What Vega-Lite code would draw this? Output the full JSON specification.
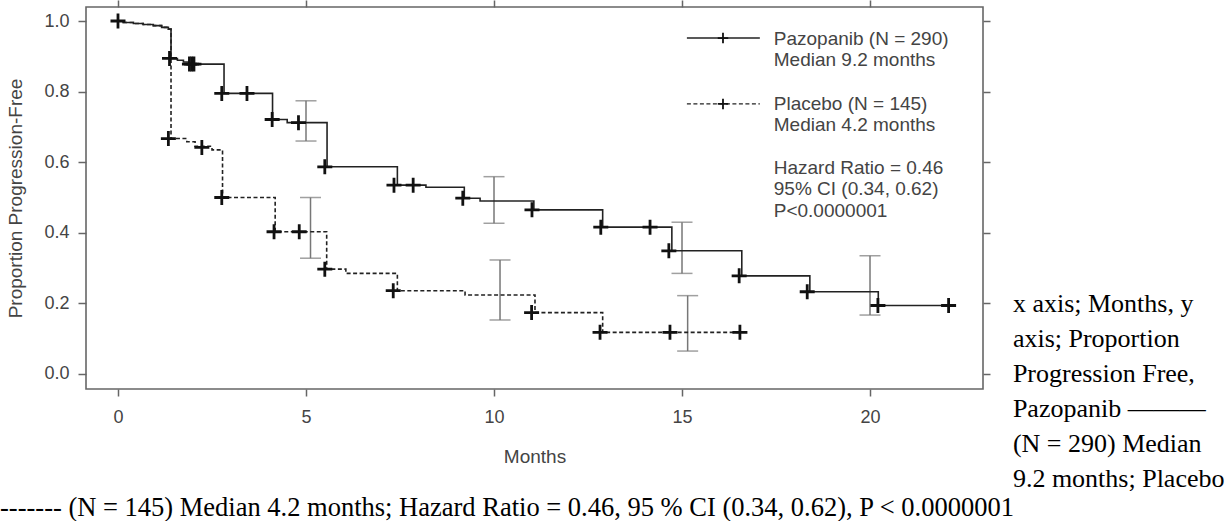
{
  "$schema": "https://vega.github.io/schema/vega-lite/v6.json",
  "width": 897,
  "height": 382,
  "autosize": "none",
  "padding": {"left": 86, "top": 7, "right": 248, "bottom": 132},
  "background": "white",
  "config": {
    "view": {"stroke": "#666", "strokeWidth": 1.6},
    "axis": {
      "domain": false, "grid": false, "tickColor": "#666", "tickWidth": 1.5, "tickSize": 7,
      "labelFont": "Liberation Sans", "labelFontSize": 18, "labelColor": "#444",
      "titleFont": "Liberation Sans", "titleFontSize": 19, "titleFontWeight": "normal", "titleColor": "#444"
    }
  },
  "datasets": {
    "curves": [
      {"arm": "Pazopanib", "month": 0, "p": 1.0},
      {"arm": "Pazopanib", "month": 0.14, "p": 0.996},
      {"arm": "Pazopanib", "month": 0.41, "p": 0.993},
      {"arm": "Pazopanib", "month": 0.67, "p": 0.99},
      {"arm": "Pazopanib", "month": 0.94, "p": 0.987},
      {"arm": "Pazopanib", "month": 1.16, "p": 0.982},
      {"arm": "Pazopanib", "month": 1.34, "p": 0.977},
      {"arm": "Pazopanib", "month": 1.41, "p": 0.894},
      {"arm": "Pazopanib", "month": 1.58, "p": 0.889},
      {"arm": "Pazopanib", "month": 1.74, "p": 0.884},
      {"arm": "Pazopanib", "month": 1.9, "p": 0.878},
      {"arm": "Pazopanib", "month": 2.82, "p": 0.795},
      {"arm": "Pazopanib", "month": 4.11, "p": 0.721},
      {"arm": "Pazopanib", "month": 4.5, "p": 0.712},
      {"arm": "Pazopanib", "month": 5.56, "p": 0.587},
      {"arm": "Pazopanib", "month": 7.43, "p": 0.535},
      {"arm": "Pazopanib", "month": 8.19, "p": 0.529},
      {"arm": "Pazopanib", "month": 9.21, "p": 0.498},
      {"arm": "Pazopanib", "month": 9.63, "p": 0.49},
      {"arm": "Pazopanib", "month": 11.06, "p": 0.465},
      {"arm": "Pazopanib", "month": 12.89, "p": 0.416},
      {"arm": "Pazopanib", "month": 14.73, "p": 0.349},
      {"arm": "Pazopanib", "month": 16.59, "p": 0.278},
      {"arm": "Pazopanib", "month": 18.4, "p": 0.233},
      {"arm": "Pazopanib", "month": 20.22, "p": 0.194},
      {"arm": "Pazopanib", "month": 22.09, "p": 0.194},
      {"arm": "Placebo", "month": 0, "p": 1.0},
      {"arm": "Placebo", "month": 0.14, "p": 0.996},
      {"arm": "Placebo", "month": 0.41, "p": 0.993},
      {"arm": "Placebo", "month": 0.67, "p": 0.99},
      {"arm": "Placebo", "month": 0.94, "p": 0.987},
      {"arm": "Placebo", "month": 1.16, "p": 0.982},
      {"arm": "Placebo", "month": 1.34, "p": 0.977},
      {"arm": "Placebo", "month": 1.41, "p": 0.667},
      {"arm": "Placebo", "month": 1.83, "p": 0.658},
      {"arm": "Placebo", "month": 2.05, "p": 0.645},
      {"arm": "Placebo", "month": 2.5, "p": 0.635},
      {"arm": "Placebo", "month": 2.78, "p": 0.5},
      {"arm": "Placebo", "month": 4.18, "p": 0.403},
      {"arm": "Placebo", "month": 5.55, "p": 0.297},
      {"arm": "Placebo", "month": 6.06, "p": 0.285},
      {"arm": "Placebo", "month": 7.43, "p": 0.236},
      {"arm": "Placebo", "month": 9.23, "p": 0.224},
      {"arm": "Placebo", "month": 11.09, "p": 0.174},
      {"arm": "Placebo", "month": 12.89, "p": 0.118},
      {"arm": "Placebo", "month": 16.54, "p": 0.118}
    ],
    "censor": [
      {"arm": "Pazopanib", "month": 0, "p": 1.0},
      {"arm": "Pazopanib", "month": 1.37, "p": 0.894},
      {"arm": "Pazopanib", "month": 1.9, "p": 0.878},
      {"arm": "Pazopanib", "month": 1.96, "p": 0.878},
      {"arm": "Pazopanib", "month": 2.02, "p": 0.878},
      {"arm": "Pazopanib", "month": 2.76, "p": 0.795},
      {"arm": "Pazopanib", "month": 3.43, "p": 0.795},
      {"arm": "Pazopanib", "month": 4.1, "p": 0.721},
      {"arm": "Pazopanib", "month": 4.8, "p": 0.712},
      {"arm": "Pazopanib", "month": 5.5, "p": 0.587},
      {"arm": "Pazopanib", "month": 7.34, "p": 0.535},
      {"arm": "Pazopanib", "month": 7.85, "p": 0.535},
      {"arm": "Pazopanib", "month": 9.17, "p": 0.498},
      {"arm": "Pazopanib", "month": 11.01, "p": 0.465},
      {"arm": "Pazopanib", "month": 12.84, "p": 0.416},
      {"arm": "Pazopanib", "month": 14.15, "p": 0.416},
      {"arm": "Pazopanib", "month": 14.65, "p": 0.349},
      {"arm": "Pazopanib", "month": 16.52, "p": 0.278},
      {"arm": "Pazopanib", "month": 18.33, "p": 0.233},
      {"arm": "Pazopanib", "month": 20.21, "p": 0.194},
      {"arm": "Pazopanib", "month": 22.09, "p": 0.194},
      {"arm": "Placebo", "month": 1.34, "p": 0.667},
      {"arm": "Placebo", "month": 2.23, "p": 0.642},
      {"arm": "Placebo", "month": 2.76, "p": 0.5},
      {"arm": "Placebo", "month": 4.15, "p": 0.403},
      {"arm": "Placebo", "month": 4.82, "p": 0.403},
      {"arm": "Placebo", "month": 5.5, "p": 0.297},
      {"arm": "Placebo", "month": 7.32, "p": 0.236},
      {"arm": "Placebo", "month": 11.0, "p": 0.174},
      {"arm": "Placebo", "month": 12.82, "p": 0.118},
      {"arm": "Placebo", "month": 14.68, "p": 0.118},
      {"arm": "Placebo", "month": 16.54, "p": 0.118}
    ],
    "ci": [
      {"arm": "Pazopanib", "month": 5.0, "lo": 0.66, "hi": 0.774},
      {"arm": "Pazopanib", "month": 10.0, "lo": 0.427, "hi": 0.559},
      {"arm": "Pazopanib", "month": 15.0, "lo": 0.285, "hi": 0.43},
      {"arm": "Pazopanib", "month": 20.0, "lo": 0.167, "hi": 0.335},
      {"arm": "Placebo", "month": 5.12, "lo": 0.328, "hi": 0.5},
      {"arm": "Placebo", "month": 10.16, "lo": 0.153, "hi": 0.323},
      {"arm": "Placebo", "month": 15.15, "lo": 0.065, "hi": 0.222}
    ]
  },
  "layer": [
    {
      "data": {"name": "ci"},
      "mark": {"type": "rule", "color": "#777", "strokeWidth": 1.5},
      "encoding": {
        "x": {"field": "month", "type": "quantitative", "axis": null},
        "y": {"field": "lo", "type": "quantitative", "axis": null},
        "y2": {"field": "hi"}
      }
    },
    {
      "data": {"name": "ci"},
      "mark": {"type": "tick", "orient": "horizontal", "size": 21, "thickness": 1.5, "color": "#777"},
      "encoding": {
        "x": {"field": "month", "type": "quantitative", "axis": null},
        "y": {"field": "lo", "type": "quantitative", "axis": null}
      }
    },
    {
      "data": {"name": "ci"},
      "mark": {"type": "tick", "orient": "horizontal", "size": 21, "thickness": 1.5, "color": "#777"},
      "encoding": {
        "x": {"field": "month", "type": "quantitative", "axis": null},
        "y": {"field": "hi", "type": "quantitative", "axis": null}
      }
    },
    {
      "data": {"name": "curves"},
      "mark": {"type": "line", "interpolate": "step-after", "color": "#222", "strokeWidth": 1.6},
      "encoding": {
        "x": {"field": "month", "type": "quantitative",
          "scale": {"domain": [-0.851, 23.005], "nice": false, "zero": false},
          "axis": {"orient": "bottom", "values": [0, 5, 10, 15, 20], "title": "Months", "labelPadding": 12, "titlePadding": 21}},
        "y": {"field": "p", "type": "quantitative",
          "scale": {"domain": [-0.0425, 1.0397], "nice": false, "zero": false},
          "axis": {"orient": "left", "values": [0, 0.2, 0.4, 0.6, 0.8, 1.0], "format": ".1f", "title": "Proportion Progression-Free", "tickSize": 8, "labelPadding": 9, "titlePadding": 18}},
        "strokeDash": {"field": "arm", "type": "nominal",
          "scale": {"domain": ["Pazopanib", "Placebo"], "range": [[1, 0], [4, 2.5]]}, "legend": null}
      }
    },
    {
      "data": {"name": "censor"},
      "mark": {"type": "point", "shape": "M-1,0H1M0,-1V1", "size": 225, "strokeWidth": 2.8, "color": "#111", "filled": false, "opacity": 1},
      "encoding": {
        "x": {"field": "month", "type": "quantitative",
          "axis": {"orient": "top", "values": [0, 5, 10, 15, 20], "labels": false, "title": null}},
        "y": {"field": "p", "type": "quantitative",
          "axis": {"orient": "right", "values": [0, 0.2, 0.4, 0.6, 0.8, 1.0], "labels": false, "title": null}}
      }
    },
    {
      "data": {"values": [{}]},
      "mark": {"type": "rule", "color": "#222", "strokeWidth": 1.5},
      "encoding": {
        "x": {"datum": 15.13, "type": "quantitative", "axis": null},
        "x2": {"datum": 17.07},
        "y": {"datum": 0.9518, "type": "quantitative", "axis": null}
      }
    },
    {
      "data": {"values": [{}]},
      "mark": {"type": "rule", "color": "#222", "strokeWidth": 1.3, "strokeDash": [4, 2.5]},
      "encoding": {
        "x": {"datum": 15.13, "type": "quantitative", "axis": null},
        "x2": {"datum": 17.07},
        "y": {"datum": 0.765, "type": "quantitative", "axis": null}
      }
    },
    {
      "data": {"values": [{"row": "Pazopanib", "lp": 0.9518}, {"row": "Placebo", "lp": 0.765}]},
      "mark": {"type": "point", "shape": "M-1,0H1M0,-1V1", "size": 110, "strokeWidth": 1.8, "color": "#111", "filled": false, "opacity": 1},
      "encoding": {
        "x": {"datum": 16.09, "type": "quantitative", "axis": null},
        "y": {"field": "lp", "type": "quantitative", "axis": null}
      }
    },
    {
      "data": {"values": [{}]},
      "mark": {"type": "text", "align": "left", "baseline": "alphabetic", "font": "Liberation Sans", "fontSize": 19, "lineHeight": 21.5, "lineBreak": "\n", "color": "#444"},
      "encoding": {
        "x": {"datum": 17.44, "type": "quantitative", "axis": null},
        "y": {"datum": 0.9326, "type": "quantitative", "axis": null},
        "text": {"value": "Pazopanib (N = 290)\nMedian 9.2 months"}
      }
    },
    {
      "data": {"values": [{}]},
      "mark": {"type": "text", "align": "left", "baseline": "alphabetic", "font": "Liberation Sans", "fontSize": 19, "lineHeight": 21.5, "lineBreak": "\n", "color": "#444"},
      "encoding": {
        "x": {"datum": 17.44, "type": "quantitative", "axis": null},
        "y": {"datum": 0.7484, "type": "quantitative", "axis": null},
        "text": {"value": "Placebo (N = 145)\nMedian 4.2 months"}
      }
    },
    {
      "data": {"values": [{}]},
      "mark": {"type": "text", "align": "left", "baseline": "alphabetic", "font": "Liberation Sans", "fontSize": 19, "lineHeight": 21.5, "lineBreak": "\n", "color": "#444"},
      "encoding": {
        "x": {"datum": 17.44, "type": "quantitative", "axis": null},
        "y": {"datum": 0.5671, "type": "quantitative", "axis": null},
        "text": {"value": "Hazard Ratio = 0.46\n95% CI (0.34, 0.62)\nP<0.0000001"}
      }
    },
    {
      "data": {"values": [{}]},
      "mark": {"type": "text", "align": "left", "baseline": "alphabetic", "font": "Liberation Serif", "fontSize": 26, "lineHeight": 35, "lineBreak": "\n", "color": "#000"},
      "encoding": {
        "x": {"datum": 23.8, "type": "quantitative", "axis": null},
        "y": {"datum": 0.177, "type": "quantitative", "axis": null},
        "text": {"value": "x axis; Months, y\naxis; Proportion\nProgression Free,\nPazopanib  ———\n(N = 290) Median\n9.2 months; Placebo"}
      }
    },
    {
      "data": {"values": [{}]},
      "mark": {"type": "text", "align": "left", "baseline": "alphabetic", "font": "Liberation Serif", "fontSize": 26.5, "color": "#000"},
      "encoding": {
        "x": {"datum": -3.138, "type": "quantitative", "axis": null},
        "y": {"datum": -0.4023, "type": "quantitative", "axis": null},
        "text": {"value": "------- (N = 145) Median 4.2 months; Hazard Ratio = 0.46, 95 % CI (0.34, 0.62), P < 0.0000001"}
      }
    }
  ],
  "resolve": {"axis": {"x": "independent", "y": "independent"}}
}
